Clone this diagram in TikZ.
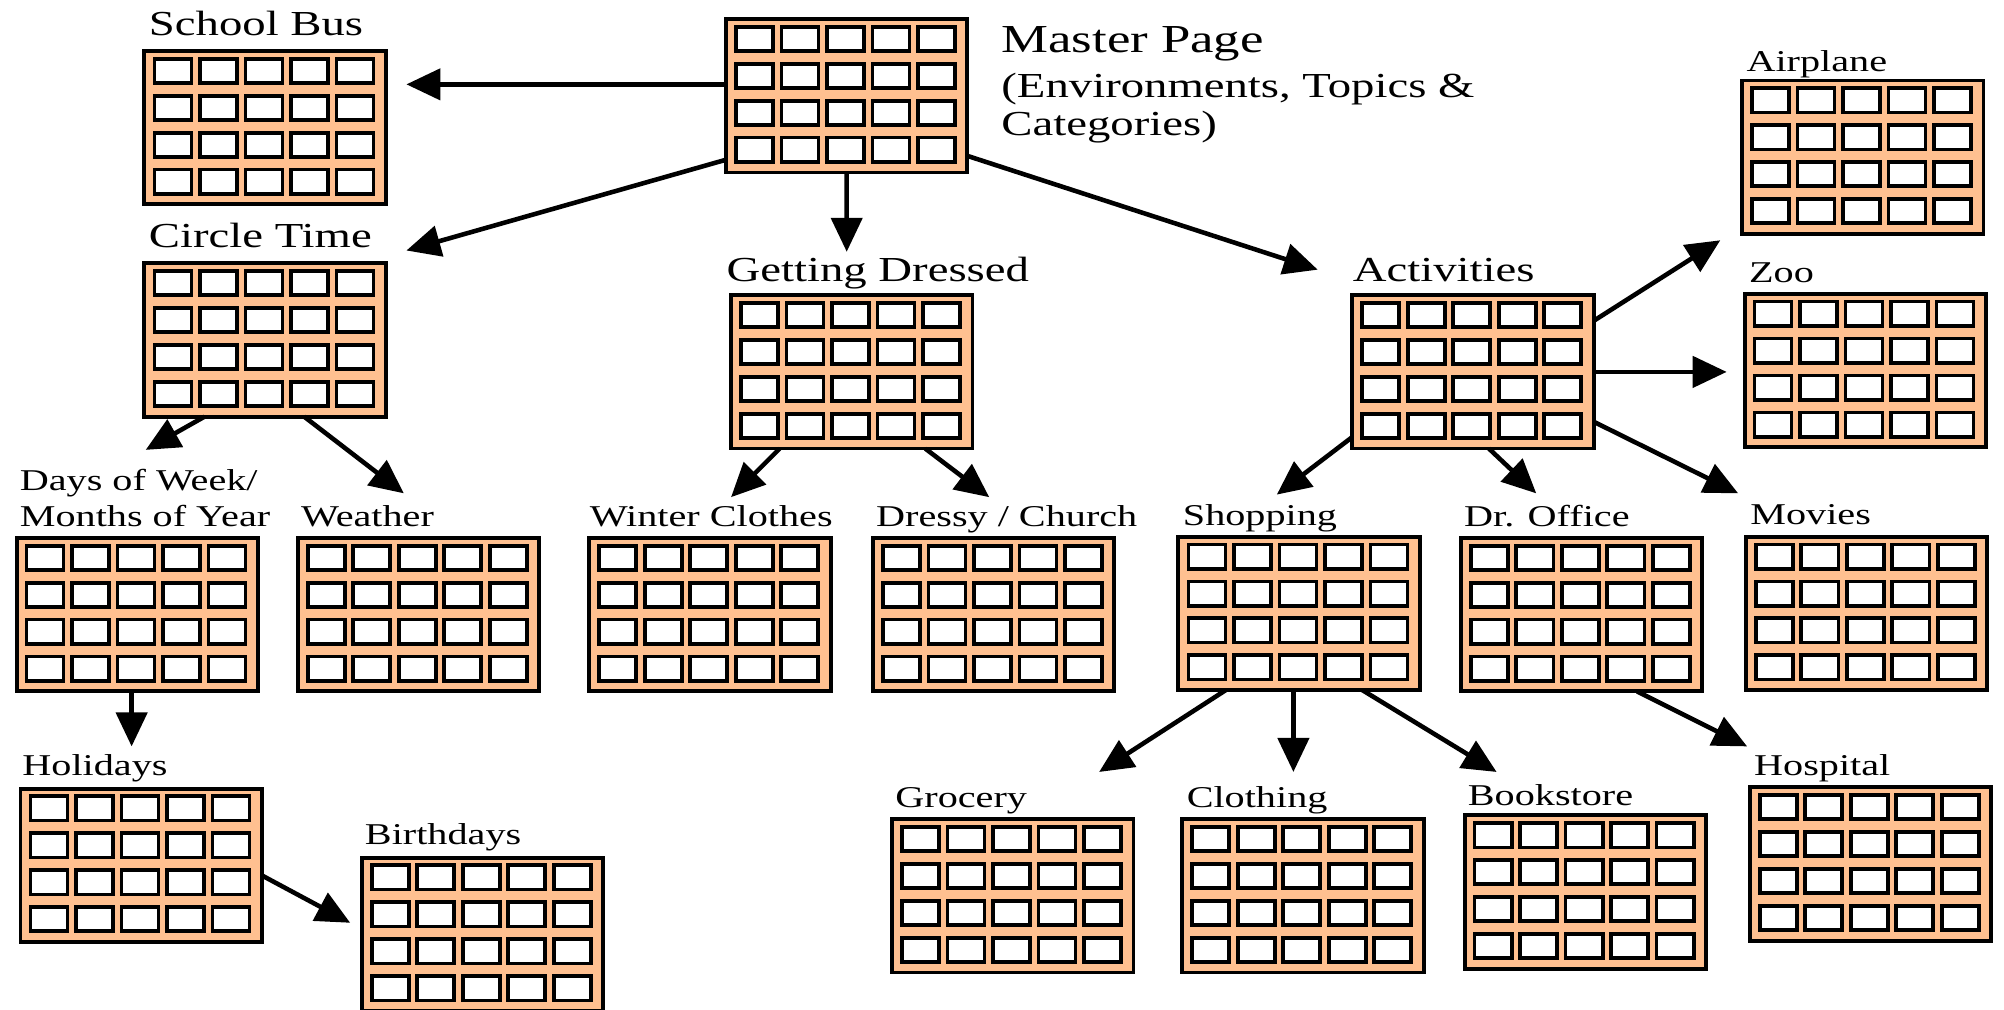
\documentclass[tikz,border=0pt]{standalone}
\usepackage{fontspec}
\setmainfont{Liberation Serif}[FakeStretch=1.33]
\usetikzlibrary{arrows.meta,calc}
\definecolor{peach}{RGB}{255,192,144}
\tikzset{
  gbox/.style={draw, line width=1.1pt, fill=peach, minimum width=2.4155cm,
    minimum height=1.5337cm, inner sep=0pt, outer sep=0pt, anchor=north west},
  cellbox/.style={draw, line width=1.05pt, fill=white},
  arr/.style={line width=1.3pt, -{Triangle[length=0.34cm,width=0.31cm]}},
  biglbl/.style={font=\fontsize{10}{12}\selectfont, anchor=base west, inner sep=0pt},
  smalllbl/.style={font=\fontsize{8.6}{10}\selectfont, anchor=base west, inner sep=0pt},
  masterlbl/.style={font=\fontsize{11.3}{13}\selectfont, anchor=base west, inner sep=0pt},
}
\newcommand\gridcells[1]{%
  \begin{scope}[shift={(#1.north west)}]
    \foreach \i in {0,...,4}{\foreach \j in {0,...,3}{%
      \draw[cellbox] ({7.8+35.6*\i},{6+28.9*\j}) rectangle ++(29,19);}}
  \end{scope}}
\begin{document}
\begin{tikzpicture}[x=0.0127806cm,y=-0.0127806cm]
\useasboundingbox (0,0) rectangle (1568,790);
% boxes
\foreach \n/\x/\y in {sb/113/40, mp/568/15, ct/113/206, gd/572/231, ac/1058/231,
  ap/1363/63, zo/1365/230, dw/13/421, we/233/421, wc/461/421, dc/683/421,
  sh/922/420, do/1143/421, mv/1366/420, ho/16/617, bd/283/671, gr/698/641,
  cl/925/641, bk/1146/638, hs/1369/616}{
  \node[gbox] (\n) at (\x,\y) {};
  \gridcells{\n}
}
% labels
\node[biglbl] (sbL) at (116,28) {School Bus};
\node[masterlbl] (mpL1) at (783,41) {Master Page};
\node[biglbl] (mpL2) at (783,76) {(Environments, Topics \&};
\node[biglbl] (mpL3) at (783,106) {Categories)};
\node[biglbl] (ctL) at (116,194) {Circle Time};
\node[biglbl] (gdL) at (568,220) {Getting Dressed};
\node[biglbl] (acL) at (1058,220) {Activities};
\node[smalllbl] (apL) at (1366,56) {Airplane};
\node[smalllbl] (zoL) at (1368,221) {Zoo};
\node[smalllbl] (dwL1) at (15,384) {Days of Week/};
\node[smalllbl] (dwL2) at (15,412) {Months of Year};
\node[smalllbl] (weL) at (235,412) {Weather};
\node[smalllbl] (wcL) at (461,412) {Winter Clothes};
\node[smalllbl] (dcL) at (685,412) {Dressy / Church};
\node[smalllbl] (shL) at (925,411) {Shopping};
\node[smalllbl] (doL) at (1145,412) {Dr. Office};
\node[smalllbl] (mvL) at (1369,410) {Movies};
\node[smalllbl] (hoL) at (17,607) {Holidays};
\node[smalllbl] (bdL) at (285,661) {Birthdays};
\node[smalllbl] (grL) at (700,632) {Grocery};
\node[smalllbl] (clL) at (928,632) {Clothing};
\node[smalllbl] (bkL) at (1148,630) {Bookstore};
\node[smalllbl] (hsL) at (1372,607) {Hospital};
% arrow tips
\coordinate (t1) at (318,66);
\coordinate (t2) at (318,196);
\coordinate (t3) at (662.5,197);
\coordinate (t4) at (1031,211);
\coordinate (t5) at (114,352);
\coordinate (t6) at (316,386);
\coordinate (t7) at (103,584);
\coordinate (t8) at (274,722);
\coordinate (t9) at (572,389);
\coordinate (t10) at (774,389);
\coordinate (t11) at (999,387);
\coordinate (t12) at (1202,386);
\coordinate (t13) at (1346,188);
\coordinate (t14) at (1351,291);
\coordinate (t15) at (1360,386);
\coordinate (t16) at (860,604);
\coordinate (t17) at (1012,604);
\coordinate (t18) at (1171,604);
\coordinate (t19) at (1367,584);
% connectors
\draw[arr] ($(mp.north west)+(0,51)$) -- (t1);
\draw[arr] ($(mp.north west)+(0,110)$) -- (t2);
\draw[arr] (mp.south) -- (t3);
\draw[arr] ($(mp.north west)+(189,107)$) -- (t4);
\draw[arr] ($(ct.north west)+(47,120)$) -- (t5);
\draw[arr] ($(ct.north west)+(125,120)$) -- (t6);
\draw[arr] ($(dw.north west)+(90,120)$) -- (t7);
\draw[arr] ($(ho.north west)+(189,68)$) -- (t8);
\draw[arr] ($(gd.north west)+(38,120)$) -- (t9);
\draw[arr] ($(gd.north west)+(152,120)$) -- (t10);
\draw[arr] ($(ac.north west)+(0,111)$) -- (t11);
\draw[arr] ($(ac.north west)+(107,120)$) -- (t12);
\draw[arr] ($(ac.north west)+(189,20)$) -- (t13);
\draw[arr] ($(ac.north west)+(189,60)$) -- (t14);
\draw[arr] ($(ac.north west)+(189,99)$) -- (t15);
\draw[arr] ($(sh.north west)+(37,120)$) -- (t16);
\draw[arr] ($(sh.north west)+(90,120)$) -- (t17);
\draw[arr] ($(sh.north west)+(144,120)$) -- (t18);
\draw[arr] ($(do.north west)+(138,120)$) -- (t19);
\end{tikzpicture}
\end{document}
